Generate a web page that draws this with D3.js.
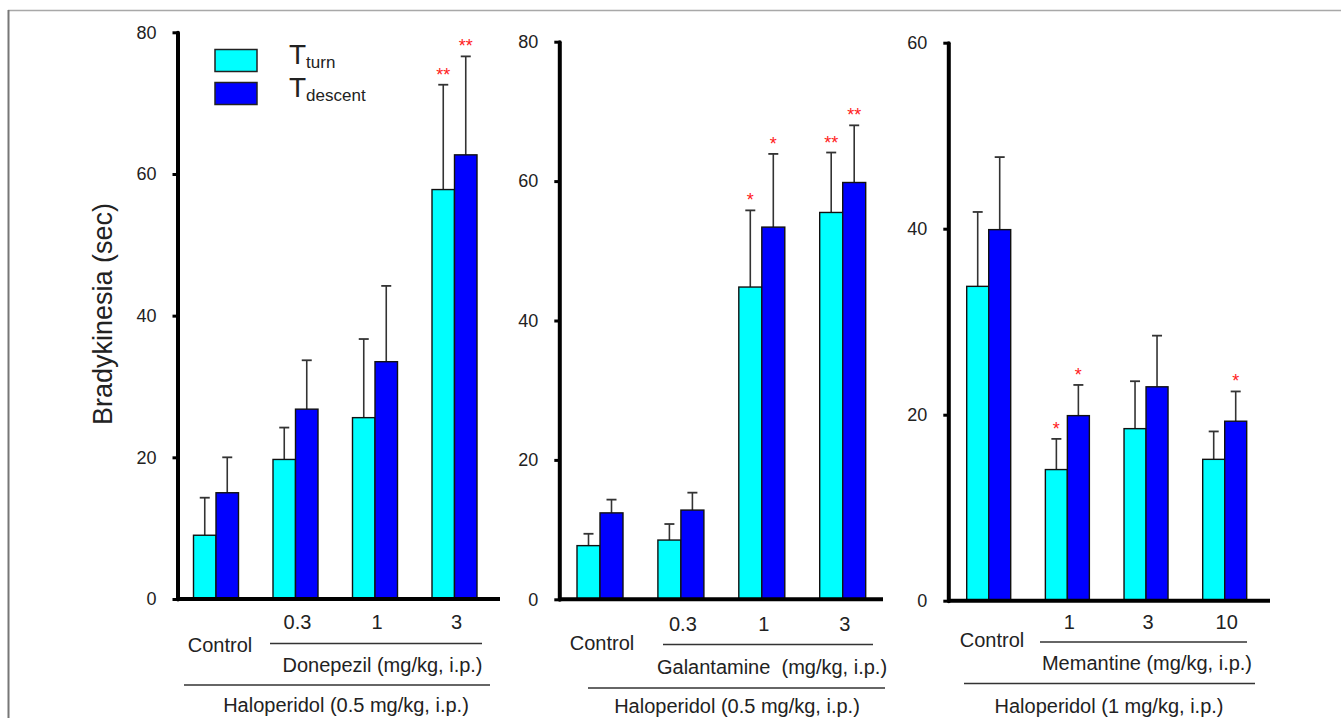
<!DOCTYPE html>
<html>
<head>
<meta charset="utf-8">
<script src="https://cdn.jsdelivr.net/npm/d3@7"></script>
<style>
  body { margin: 0; background: #fff; }
  svg { display: block; }
  text { font-family: Arial, "Liberation Sans", sans-serif; fill: #222; }
</style>
</head>
<body>
<svg id="chart" width="1341" height="718"></svg>
<script>
// --- data ---
const groups1 = ["Control", "0.3", "1", "3"];
const turn1 = [9.0, 19.7, 25.6, 57.8];
const turnErr1 = [5.3, 4.5, 11.1, 14.8];
const descent1 = [15.0, 26.8, 33.5, 62.7];
const descentErr1 = [5.0, 6.9, 10.7, 13.9];
const turnSig1 = ["", "", "", "**"];
const descentSig1 = ["", "", "", "**"];

const groups2 = ["Control", "0.3", "1", "3"];
const turn2 = [7.7, 8.5, 44.8, 55.5];
const turnErr2 = [1.7, 2.3, 11.0, 8.6];
const descent2 = [12.4, 12.8, 53.4, 59.8];
const descentErr2 = [1.9, 2.5, 10.5, 8.2];
const turnSig2 = ["", "", "*", "**"];
const descentSig2 = ["", "", "*", "**"];

const groups3 = ["Control", "1", "3", "10"];
const turn3 = [33.8, 14.1, 18.5, 15.2];
const turnErr3 = [8.0, 3.3, 5.1, 3.0];
const descent3 = [39.9, 19.9, 23.0, 19.3];
const descentErr3 = [7.8, 3.3, 5.5, 3.2];
const turnSig3 = ["", "*", "", ""];
const descentSig3 = ["", "*", "", "*"];

const yTicks1 = [0, 20, 40, 60, 80];
const yTicks2 = [0, 20, 40, 60, 80];
const yTicks3 = [0, 20, 40, 60];

const drugLabels = ["Donepezil (mg/kg, i.p.)", "Galantamine  (mg/kg, i.p.)", "Memantine (mg/kg, i.p.)"];
const haloLabels = ["Haloperidol (0.5 mg/kg, i.p.)", "Haloperidol (0.5 mg/kg, i.p.)", "Haloperidol (1 mg/kg, i.p.)"];
const seriesNames = ["turn", "descent"];
const colors = ["#00ffff", "#0000ff"];

// --- layout per panel ---
const panels = [
  { groups: groups1, turn: turn1, turnErr: turnErr1, descent: descent1, descentErr: descentErr1,
    turnSig: turnSig1, descentSig: descentSig1, ticks: yTicks1,
    axisX: 177.5, y0: 599, yTop: 32.3, c0: 216, c3: 454.5, xEnd: 500, barW: 22.5,
    doseY: 629, controlX: 220, controlY: 652, line1: [270, 482, 643.5], drugX: 382.5, drugY: 672,
    line2: [184, 490, 685], haloX: 346, haloY: 712 },
  { groups: groups2, turn: turn2, turnErr: turnErr2, descent: descent2, descentErr: descentErr2,
    turnSig: turnSig2, descentSig: descentSig2, ticks: yTicks2,
    axisX: 559.3, y0: 599.3, yTop: 41.7, c0: 600, c3: 842.7, xEnd: 883, barW: 23,
    doseY: 631, controlX: 602, controlY: 650, line1: [663, 873, 644.5], drugX: 772, drugY: 673.5,
    line2: [588, 885, 688], haloX: 737, haloY: 713 },
  { groups: groups3, turn: turn3, turnErr: turnErr3, descent: descent3, descentErr: descentErr3,
    turnSig: turnSig3, descentSig: descentSig3, ticks: yTicks3,
    axisX: 948.3, y0: 600.7, yTop: 42.7, c0: 988.7, c3: 1224.7, xEnd: 1270, barW: 22,
    doseY: 628.5, controlX: 992, controlY: 647, line1: [1040, 1247, 642], drugX: 1147, drugY: 669.5,
    line2: [964, 1255, 683.5], haloX: 1109, haloY: 713 }
];

const svg = d3.select("#chart");

// frame lines
svg.append("line").attr("x1", 8).attr("x2", 1341).attr("y1", 10.5).attr("y2", 10.5)
  .attr("stroke", "#a8a8a8").attr("stroke-width", 1.5);
svg.append("line").attr("x1", 8.5).attr("x2", 8.5).attr("y1", 10).attr("y2", 718)
  .attr("stroke", "#777").attr("stroke-width", 2);

panels.forEach((p, pi) => {
  const g = svg.append("g");
  const yMax = p.ticks[p.ticks.length - 1];
  const y = d3.scaleLinear().domain([0, yMax]).range([p.y0, p.yTop]);
  const x = d3.scalePoint().domain(p.groups).range([p.c0, p.c3]);

  // bars
  const rows = p.groups.map((grp, i) => [
    { grp, s: 0, v: p.turn[i], e: p.turnErr[i], sig: p.turnSig[i] },
    { grp, s: 1, v: p.descent[i], e: p.descentErr[i], sig: p.descentSig[i] }
  ]).flat();
  const bx = d => x(d.grp) + (d.s === 0 ? -p.barW : 0);

  // error bars (upper only)
  g.selectAll("line.err").data(rows).join("line")
    .attr("x1", d => bx(d) + p.barW / 2).attr("x2", d => bx(d) + p.barW / 2)
    .attr("y1", d => y(d.v)).attr("y2", d => y(d.v + d.e))
    .attr("stroke", "#333").attr("stroke-width", 1.6);
  g.selectAll("line.cap").data(rows).join("line")
    .attr("x1", d => bx(d) + p.barW / 2 - 5).attr("x2", d => bx(d) + p.barW / 2 + 5)
    .attr("y1", d => y(d.v + d.e)).attr("y2", d => y(d.v + d.e))
    .attr("stroke", "#333").attr("stroke-width", 1.8);

  g.selectAll("rect.bar").data(rows).join("rect")
    .attr("x", bx).attr("width", p.barW)
    .attr("y", d => y(d.v)).attr("height", d => y(0) - y(d.v))
    .attr("fill", d => colors[d.s]).attr("stroke", "#111").attr("stroke-width", 1.4);

  // significance marks
  g.selectAll("text.sig").data(rows.filter(d => d.sig)).join("text")
    .attr("x", d => bx(d) + p.barW / 2).attr("y", d => y(d.v + d.e) - 4)
    .attr("text-anchor", "middle").attr("font-size", 18)
    .style("fill", "#ff2020").text(d => d.sig);

  // y axis
  const ax = g.append("g").attr("transform", `translate(${p.axisX},0)`)
    .call(d3.axisLeft(y).tickValues(p.ticks).tickSize(5).tickSizeOuter(0).tickPadding(16));
  ax.select(".domain").attr("stroke", "#000").attr("stroke-width", 4).attr("stroke-linecap", "round");
  ax.selectAll(".tick line").attr("stroke", "#000").attr("stroke-width", 3);
  ax.selectAll(".tick text").attr("font-size", 18).style("fill", "#222")
    .attr("font-family", "Arial, 'Liberation Sans', sans-serif");

  // x baseline
  g.append("line").attr("x1", p.axisX).attr("x2", p.xEnd).attr("y1", y(0)).attr("y2", y(0))
    .attr("stroke", "#000").attr("stroke-width", 4);

  // dose labels
  g.selectAll("text.dose").data(p.groups.slice(1)).join("text")
    .attr("x", d => x(d) + 2).attr("y", p.doseY)
    .attr("text-anchor", "middle").attr("font-size", 20).text(d => d);
  g.append("text").attr("x", p.controlX).attr("y", p.controlY)
    .attr("text-anchor", "middle").attr("font-size", 20).text(p.groups[0]);

  g.append("line").attr("x1", p.line1[0]).attr("x2", p.line1[1]).attr("y1", p.line1[2]).attr("y2", p.line1[2])
    .attr("stroke", "#333").attr("stroke-width", 1.5);
  g.append("text").attr("x", p.drugX).attr("y", p.drugY).attr("text-anchor", "middle")
    .attr("font-size", 20).style("white-space", "pre").text(drugLabels[pi]);
  g.append("line").attr("x1", p.line2[0]).attr("x2", p.line2[1]).attr("y1", p.line2[2]).attr("y2", p.line2[2])
    .attr("stroke", "#333").attr("stroke-width", 1.5);
  g.append("text").attr("x", p.haloX).attr("y", p.haloY).attr("text-anchor", "middle")
    .attr("font-size", 20).text(haloLabels[pi]);
});

// y title
svg.append("text").attr("transform", "translate(112,314) rotate(-90)")
  .attr("text-anchor", "middle").attr("font-size", 27).text("Bradykinesia (sec)");

// legend
const leg = svg.append("g");
seriesNames.forEach((name, i) => {
  const top = i === 0 ? 49.5 : 82.5;
  leg.append("rect").attr("x", 215).attr("y", top).attr("width", 42).attr("height", 22)
    .attr("fill", colors[i]).attr("stroke", "#222").attr("stroke-width", 1.5);
  const t = leg.append("text").attr("x", 289).attr("y", top + 14).attr("font-size", 17);
  t.append("tspan").attr("font-size", 28).attr("dy", 0).text("T");
  t.append("tspan").attr("dy", 4).text(name);
});
</script>
</body>
</html>
